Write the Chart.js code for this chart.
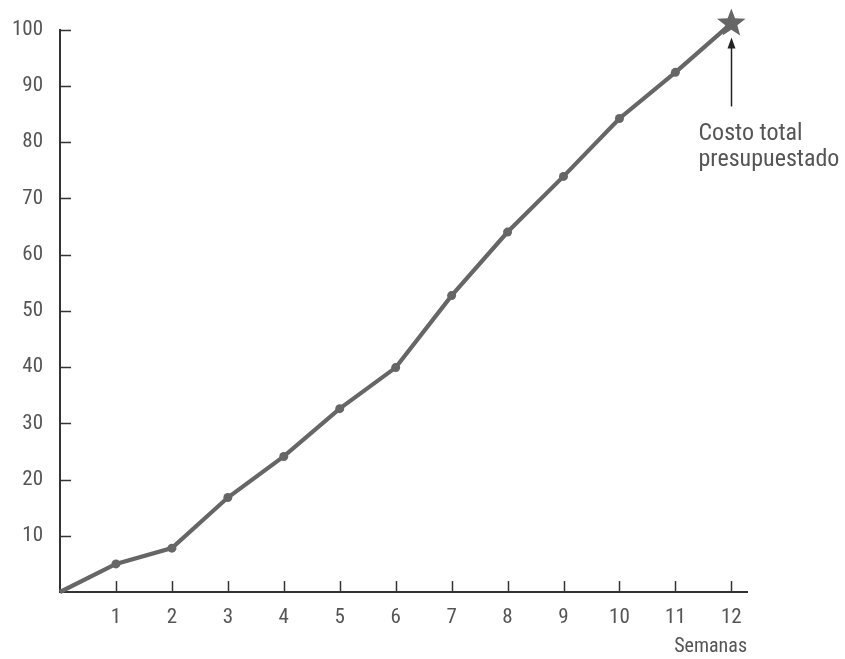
<!DOCTYPE html>
<html><head><meta charset="utf-8">
<script src="https://cdn.jsdelivr.net/npm/chart.js@4/dist/chart.umd.min.js"></script>
<style>html,body{margin:0;padding:0;background:#fff}#wrap{width:845px;height:659px}</style>
</head><body><div id="wrap"><canvas id="c" width="845" height="659"></canvas></div>
<script>
const weeks = [0,1,2,3,4,5,6,7,8,9,10,11,12];
const cost = [0,5.0,7.8,16.8,24.1,32.6,39.9,52.7,64.0,73.9,84.2,92.4,101.1];
const xTickValues = [1,2,3,4,5,6,7,8,9,10,11,12];
const yTickValues = [10,20,30,40,50,60,70,80,90,100];
const xTitle = 'Semanas';
const noteLines = ['Costo total','presupuestado'];

const FONT = "'Roboto Condensed', 'Roboto', sans-serif";
const LINE = '#666666';
const TXT = '#555555';

const pts = weeks.map((w,i)=>({x:w,y:cost[i]}));
const radii = weeks.map((w,i)=> (i===0 || i===weeks.length-1) ? 0 : 4.5);

const deco = {
  id:'deco',
  afterDraw(chart){
    const g = chart.ctx, xs = chart.scales.x, ys = chart.scales.y;
    g.save();
    g.strokeStyle = '#333'; g.lineWidth = 1.5;
    const bottom = ys.getPixelForValue(0), left = xs.getPixelForValue(0);
    xTickValues.forEach(v=>{ const px = Math.round(xs.getPixelForValue(v))+0.5; g.beginPath(); g.moveTo(px,bottom); g.lineTo(px,bottom-11); g.stroke(); });
    yTickValues.forEach(v=>{ const py = Math.round(ys.getPixelForValue(v))+0.5; g.beginPath(); g.moveTo(left,py); g.lineTo(left+11,py); g.stroke(); });
    // star at final point
    const el = chart.getDatasetMeta(0).data[weeks.length-1];
    const sx = el.x, sy = el.y, r = 15;
    g.fillStyle = LINE;
    g.beginPath();
    for(let i=0;i<10;i++){
      const rad = i%2===0 ? r : r*0.42;
      const a = -Math.PI/2 + i*Math.PI/5;
      const px = sx + rad*Math.cos(a), py = sy + rad*Math.sin(a);
      i===0 ? g.moveTo(px,py) : g.lineTo(px,py);
    }
    g.closePath(); g.fill();
    // arrow
    const ax = Math.round(sx)+0.5;
    const yTop = sy + 14;
    const yBot = sy + 83;
    g.strokeStyle = '#222'; g.fillStyle = '#222'; g.lineWidth = 1.5;
    g.beginPath(); g.moveTo(ax,yBot); g.lineTo(ax,yTop+6); g.stroke();
    g.beginPath(); g.moveTo(ax,yTop); g.lineTo(ax-4,yTop+11); g.lineTo(ax+4,yTop+11); g.closePath(); g.fill();
    g.fillStyle = TXT; g.font = "24px " + FONT; g.textAlign='left'; g.textBaseline='alphabetic';
    g.fillText(noteLines[0], ax-33, sy+117);
    g.fillText(noteLines[1], ax-33, sy+143);
    g.restore();
  }
};

new Chart(document.getElementById('c'), {
  type:'line',
  data:{datasets:[{data:pts, borderColor:LINE, borderWidth:4.2, backgroundColor:LINE,
    pointStyle:'circle', pointRadius:radii, pointBackgroundColor:LINE, pointBorderWidth:0, tension:0, clip:false}]},
  options:{
    responsive:false, animation:false, events:[],
    layout:{padding:{top:28,right:98,left:0,bottom:0}},
    plugins:{legend:{display:false},tooltip:{enabled:false}},
    scales:{
      x:{type:'linear', min:0, max:12.28,
        afterBuildTicks(s){ s.ticks = xTickValues.map(v=>({value:v})); },
        afterFit(s){ s.height = 67; },
        grid:{display:false, drawTicks:false},
        border:{display:true, color:'#333', width:2},
        ticks:{color:TXT, font:{family:FONT,size:21}, padding:13, maxRotation:0, autoSkip:false},
        title:{display:true, text:xTitle, align:'end', color:TXT, font:{family:FONT,size:20}, padding:{top:1,bottom:0}}
      },
      y:{type:'linear', min:0, max:100,
        afterBuildTicks(s){ s.ticks = yTickValues.map(v=>({value:v})); },
        afterFit(s){ s.width = 60; },
        grid:{display:false, drawTicks:false},
        border:{display:true, color:'#333', width:2},
        ticks:{color:TXT, font:{family:FONT,size:21}, padding:17}
      }
    }
  },
  plugins:[deco]
});
</script></body></html>
